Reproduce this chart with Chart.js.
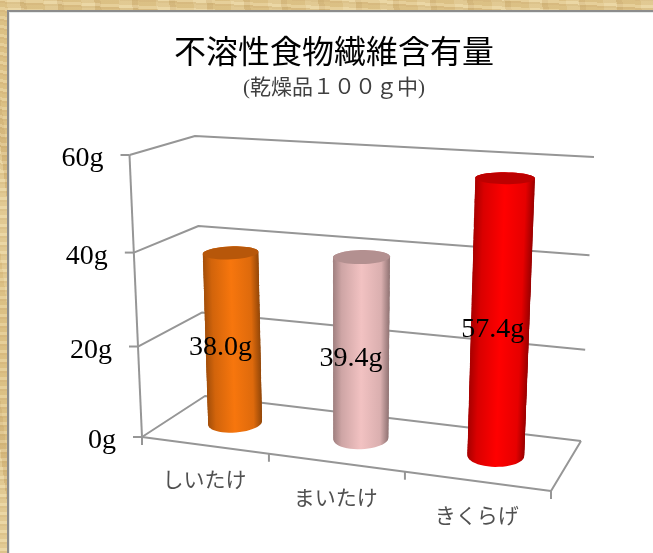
<!DOCTYPE html>
<html lang="ja">
<head>
<meta charset="utf-8">
<title>不溶性食物繊維含有量</title>
<script src="https://cdn.jsdelivr.net/npm/chart.js@4"></script>
<style>
    html, body { margin: 0; height: 100%; overflow: hidden; }
    body {
        background-color: #e0c58a;
        background-image:
            repeating-linear-gradient(3deg, rgba(170,130,70,.16) 0 2px, rgba(255,245,215,.2) 2px 5px, rgba(170,130,70,.08) 5px 9px),
            repeating-linear-gradient(83deg, rgba(255,245,215,.2) 0 13px, rgba(150,110,50,.1) 13px 19px, rgba(255,245,215,0) 19px 37px);
    }
    #panel { position: absolute; left: 7px; top: 10px; width: 660px; height: 560px; background: #fff; border: 2px solid #8c8c8c; box-sizing: border-box; box-shadow: inset 1px 1px 0 #e6eaea; }
    #grafico { position: absolute; left: 0; top: 0; }
</style>
</head>
<body>
<div id="panel"></div>
<canvas id="grafico" width="653" height="553"></canvas>
<script>
// datos
const categorias = ['しいたけ', 'まいたけ', 'きくらげ'];
const valores = [38.0, 39.4, 57.4];
const marcasEje = [0, 20, 40, 60];

const coloresBarra = ['#f7760d', '#f2c2c2', '#ff0000'];
const colorRejilla = '#969696';
const letraSerif = '"Liberation Serif", "Noto Sans CJK JP", serif';

// esquinas de la caja 3D en la pagina: [abajo, arriba]
const caja = {
    frenteIzq: [[142, 437], [129.5, 155]],
    frenteDer: [[551, 491], [567, 183]],
    fondoIzq: [[205, 396], [195, 136]],
    fondoDer: [[581, 441], [594, 157]]
};

function perspectiva(t, a) {
    return a * t / (1 + (a - 1) * t);
}

function mezcla(p, q, t) {
    return [p[0] + (q[0] - p[0]) * t, p[1] + (q[1] - p[1]) * t];
}

// u: 0-1 a lo ancho, v: 0 fondo - 1 frente, w: 0-1 en altura
function proyectar(u, v, w) {
    let uu = perspectiva(u, 0.9);
    let vv = perspectiva(v, 0.88);
    let ww = perspectiva(w, 0.945);
    let abajo = mezcla(
        mezcla(caja.fondoIzq[0], caja.fondoDer[0], uu),
        mezcla(caja.frenteIzq[0], caja.frenteDer[0], uu), vv);
    let arriba = mezcla(
        mezcla(caja.fondoIzq[1], caja.fondoDer[1], uu),
        mezcla(caja.frenteIzq[1], caja.frenteDer[1], uu), vv);
    return mezcla(abajo, arriba, ww);
}

function tono(hex, f) {
    let n = parseInt(hex.slice(1), 16);
    let r = Math.round(((n >> 16) & 255) * f);
    let g = Math.round(((n >> 8) & 255) * f);
    let b = Math.round((n & 255) * f);
    return `rgb(${r},${g},${b})`;
}

function linea(ctx, puntos) {
    ctx.beginPath();
    puntos.forEach((p, i) => i ? ctx.lineTo(p[0], p[1]) : ctx.moveTo(p[0], p[1]));
    ctx.stroke();
}

function elipse(u, du, w, dv) {
    let pts = [];
    for (let i = 0; i < 48; i++) {
        let a = i / 48 * Math.PI * 2;
        pts.push(proyectar(u + du * Math.cos(a), 0.5 + dv * Math.sin(a), w));
    }
    return pts;
}

function rellenar(ctx, pts) {
    ctx.beginPath();
    pts.forEach(p => ctx.lineTo(p[0], p[1]));
    ctx.closePath();
    ctx.fill();
}

function dibujarCaja(ctx, chart) {
    let y = chart.scales.y;
    let area = chart.chartArea;
    ctx.strokeStyle = colorRejilla;
    ctx.lineWidth = 2;
    ctx.lineJoin = 'round';

    y.ticks.forEach(tick => {
        let w = (area.bottom - y.getPixelForValue(tick.value)) / area.height;
        linea(ctx, [proyectar(0, 1, w), proyectar(0, 0, w), proyectar(1, 0, w)]);
        let p = proyectar(0, 1, w);
        linea(ctx, [[p[0] - 9, p[1]], p]);

        ctx.fillStyle = '#000';
        ctx.font = '28px ' + letraSerif;
        ctx.textAlign = 'right';
        ctx.textBaseline = 'alphabetic';
        ctx.fillText(tick.label, p[0] - 26, p[1] + 11);
    });

    linea(ctx, [proyectar(0, 1, 0), proyectar(0, 1, 1)]);
    // suelo
    linea(ctx, [proyectar(1, 0, 0), proyectar(1, 1, 0), proyectar(0, 1, 0)]);

    // marcas y etiquetas de categoria
    let x = chart.scales.x;
    for (let i = 0; i <= categorias.length; i++) {
        let p = proyectar(i / categorias.length, 1, 0);
        linea(ctx, [p, [p[0], p[1] + 8]]);
    }
    ctx.fillStyle = '#505050';
    ctx.font = '21px "Noto Sans CJK JP", sans-serif';
    ctx.textAlign = 'center';
    ctx.textBaseline = 'middle';
    categorias.forEach((c, i) => {
        let u = (x.getPixelForValue(i) - area.left) / area.width;
        let p = proyectar(u, 1, 0);
        ctx.fillText(x.getLabelForValue(i), p[0], p[1] + 34);
    });
}

function dibujarCilindro(ctx, chart, bar) {
    let area = chart.chartArea;
    let u = (bar.x - area.left) / area.width;
    let du = bar.width / 2 / area.width;
    let w = (area.bottom - bar.y) / area.height;
    let dv = 0.22;
    let color = bar.options.backgroundColor;

    // el cuerpo se arma apilando elipses, cada una con su degradado
    let capas = Math.ceil(w * 300);
    for (let k = 0; k <= capas; k++) {
        let pts = elipse(u, du, w * k / capas, dv);
        let xs = pts.map(p => p[0]);
        let grad = ctx.createLinearGradient(Math.min(...xs), 0, Math.max(...xs), 0);
        grad.addColorStop(0, tono(color, 0.66));
        grad.addColorStop(0.15, tono(color, 0.85));
        grad.addColorStop(0.5, tono(color, 1));
        grad.addColorStop(0.85, tono(color, 0.9));
        grad.addColorStop(1, tono(color, 0.6));
        ctx.fillStyle = grad;
        rellenar(ctx, pts);
    }

    ctx.fillStyle = tono(color, 0.74);
    rellenar(ctx, elipse(u, du, w, dv));
}

const cilindros3d = {
    id: 'cilindros3d',
    beforeDatasetsDraw(chart) {
        let ctx = chart.ctx;
        let meta = chart.getDatasetMeta(0);
        ctx.save();
        dibujarCaja(ctx, chart);
        meta.data.forEach(bar => dibujarCilindro(ctx, chart, bar));

        // etiquetas de datos delante de cada cilindro
        let area = chart.chartArea;
        ctx.fillStyle = '#000';
        ctx.font = '28px ' + letraSerif;
        ctx.textAlign = 'center';
        ctx.textBaseline = 'middle';
        meta.data.forEach((bar, i) => {
            let u = (bar.x - area.left) / area.width;
            let w = (area.bottom - bar.y) / area.height;
            let p = proyectar(u, 0.71, w / 2);
            ctx.fillText(valores[i].toFixed(1) + 'g', p[0], p[1] + 1);
        });
        ctx.restore();
        // las barras normales no se pintan
        return false;
    }
};

document.addEventListener('DOMContentLoaded', function () {
    let ctx = document.getElementById('grafico').getContext('2d');
    new Chart(ctx, {
        type: 'bar',
        data: {
            labels: categorias,
            datasets: [{
                data: valores,
                backgroundColor: coloresBarra,
                barPercentage: 0.39,
                categoryPercentage: 1
            }]
        },
        plugins: [cilindros3d],
        options: {
            responsive: false,
            animation: false,
            layout: { padding: { left: 15, top: 35 } },
            plugins: {
                legend: { display: false },
                tooltip: { enabled: false },
                title: {
                    display: true,
                    text: '不溶性食物繊維含有量',
                    color: '#000',
                    font: { family: letraSerif, size: 32, weight: 'normal' },
                    padding: { top: 0, bottom: 2 }
                },
                subtitle: {
                    display: true,
                    text: '(乾燥品１００ｇ中)',
                    color: '#404040',
                    font: { family: letraSerif, size: 21, weight: 'normal' },
                    padding: { top: 0, bottom: 0 }
                }
            },
            scales: {
                x: { display: false },
                y: {
                    display: false,
                    min: marcasEje[0],
                    max: marcasEje[marcasEje.length - 1],
                    ticks: { stepSize: 20, callback: v => v + 'g' }
                }
            }
        }
    });
});
</script>
</body>
</html>
